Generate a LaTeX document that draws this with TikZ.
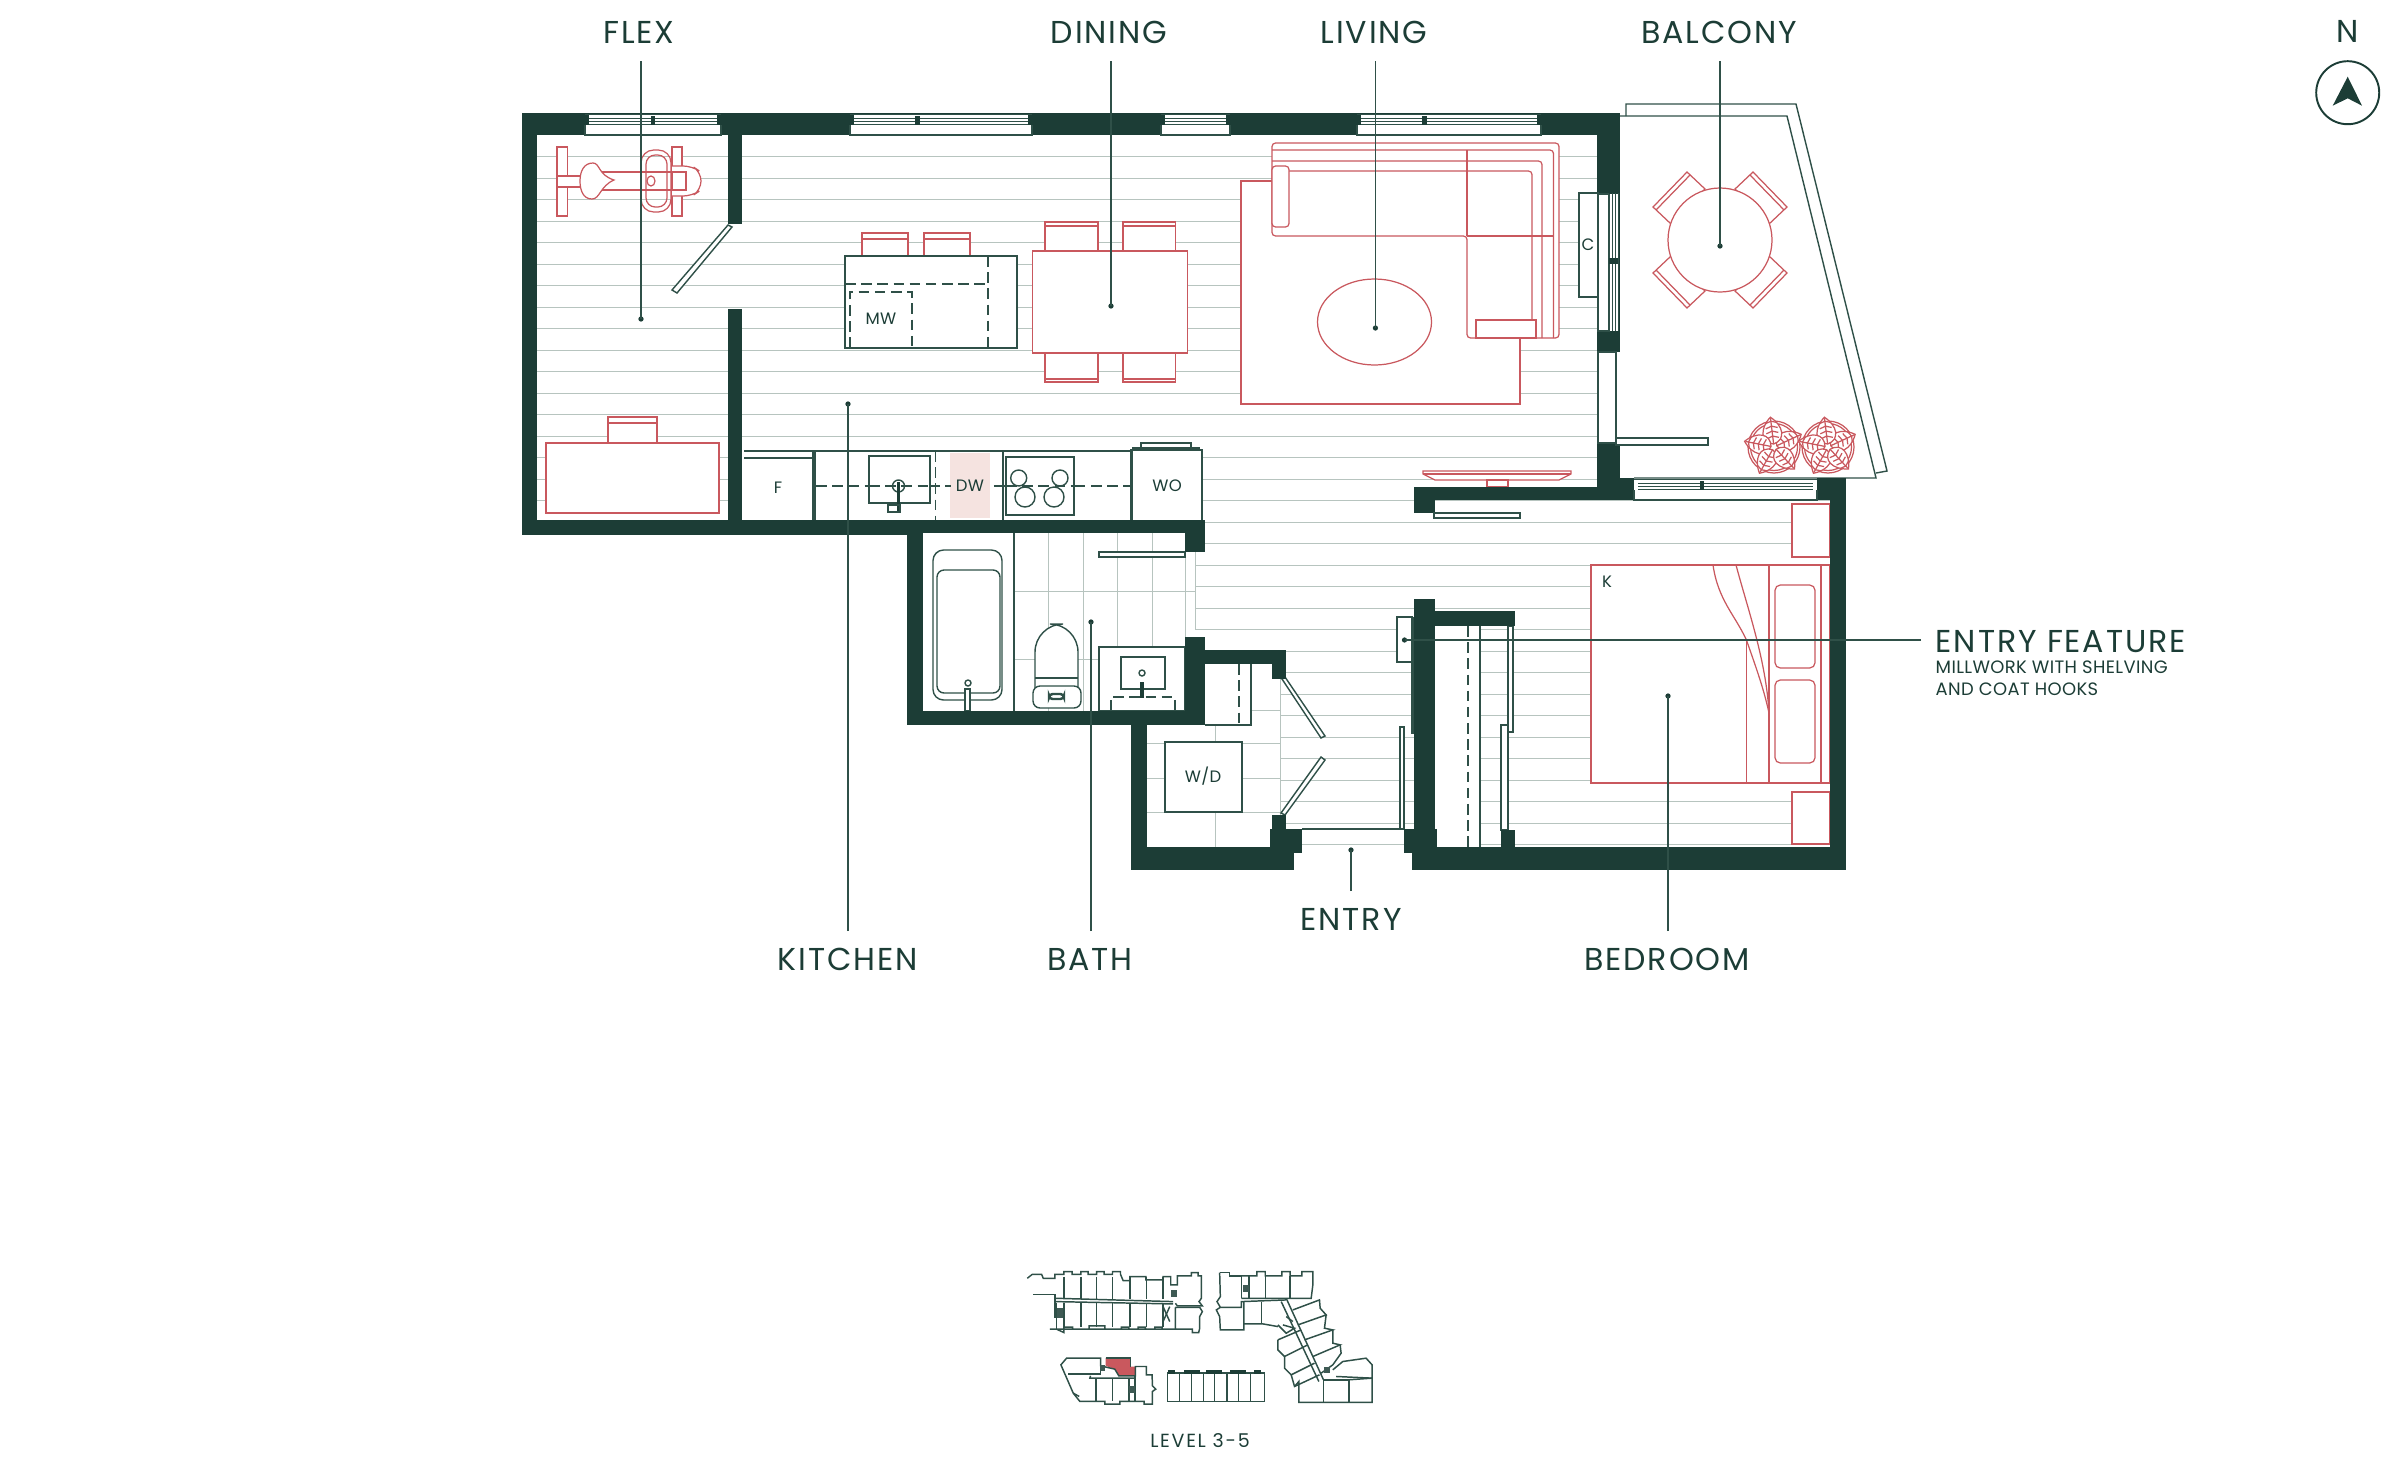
\documentclass[tikz,border=0pt]{standalone}
\usepackage{fontspec}
\setmainfont{Poppins}
\newfontfamily\lab[LetterSpace=6]{Poppins}
\newfontfamily\smalllab[LetterSpace=2]{Poppins}
\newfontfamily\levellab[LetterSpace=9]{Poppins}
\definecolor{wall}{HTML}{1C3D36}
\definecolor{ink}{HTML}{2F5048}
\definecolor{rd}{HTML}{C9585E}
\definecolor{flr}{HTML}{B7C4BF}
\definecolor{pink}{HTML}{F5E3E0}
\tikzset{
 ln/.style={draw=ink,line width=0.4pt},
 thinln/.style={draw=ink,line width=0.2pt},
 fl/.style={draw=ink,fill=white,line width=0.4pt},
 rl/.style={draw=rd,line width=0.35pt},
 rf/.style={draw=rd,fill=white,line width=0.35pt},
 dsh/.style={draw=ink,line width=0.4pt,dash pattern=on 3pt off 1.6pt},
 flrl/.style={draw=flr,line width=0.35pt},
 tile/.style={draw=flr,line width=0.25pt},
 wl/.style={fill=wall,draw=none},
 roomlab/.style={font=\lab\fontsize{9}{10}\selectfont,text=wall,inner sep=0pt},
 boxlab/.style={font=\smalllab\fontsize{4.7}{6}\selectfont,text=wall,inner sep=0pt},
 leader/.style={draw=ink,line width=0.4pt},
 ldot/.style={circle,fill=wall,inner sep=0pt,minimum size=1.5pt},
 key/.style={draw=ink,line width=0.42pt},
}
\newcommand\winh[3]{% x1 x2 ytop
 \fill[white] (#1+4,#3+2) rectangle (#2-4,#3+13);
 \fill[white] (#1,#3+12) rectangle (#2,#3+22);
 \draw[ln] (#1,#3+1.5)--(#2,#3+1.5);
 \draw[thinln] (#1+4,#3+5)--(#2-4,#3+5);
 \draw[thinln] (#1+4,#3+8)--(#2-4,#3+8);
 \draw[thinln] (#1+4,#3+11)--(#2-4,#3+11);
 \draw[ln] (#1,#3+12)--(#1,#3+22)--(#2,#3+22)--(#2,#3+12);
}
\newcommand\plant[2]{\begin{scope}[shift={(#1,#2)}]
 \draw[rf] (0,0) ellipse [x radius=26,y radius=26];
 \draw[rl] (0,0) ellipse [x radius=23.5,y radius=23.5];
 \foreach \a in {25,97,169,241,313}{\begin{scope}[rotate=\a]
  \draw[rf] (3,0) .. controls (6,-13) and (20,-12) .. (30,0) .. controls (20,12) and (6,13) .. (3,0);
  \draw[rl] (3,0)--(29,0);
  \foreach \t in {9,14,19,24}{\draw[rl] (\t,-6)--(\t+2,0)--(\t,6);}
 \end{scope}}
\end{scope}}
\begin{document}
\begin{tikzpicture}[x=0.01cm,y=-0.01cm]
\useasboundingbox (0,0) rectangle (2400,1460);
% floor planks
\foreach \k in {0,...,16}{
 \draw[flrl] (537,156.7+21.5*\k)--(1597,156.7+21.5*\k);}
\foreach \k in {16,...,22}{
 \draw[flrl] (1195,156.7+21.5*\k)--(1830,156.7+21.5*\k);}
\foreach \k in {23,...,32}{
 \draw[flrl] (1280,156.7+21.5*\k)--(1830,156.7+21.5*\k);}
% bath tiles
\foreach \x in {1048,1083,1117,1152}{\draw[tile] (\x,533)--(\x,711);}
\draw[tile] (1185,557)--(1185,637);
\draw[tile] (1195,552)--(1195,630);
\foreach \y in {591,659}{\draw[tile] (1014,\y)--(1185,\y);}
\draw[tile] (1185,591)--(1195,591);
% laundry tiles
\fill[white] (1147,664) rectangle (1280,847);
\draw[tile] (1215,725)--(1215,847);
\foreach \y in {743,778,812}{\draw[tile] (1147,\y)--(1280,\y);}
\draw[tile] (1251,710)--(1280,710);
\draw[tile] (1280,664)--(1280,829);
% living furniture
\draw[rf] (1241,181) rectangle (1520,404);
\draw[rf,rounded corners=1pt] (1272,143)--(1559,143)--(1559,338)--(1467,338)--(1467,236)--(1272,236)--cycle;
\draw[rl,rounded corners=1pt] (1272,150)--(1553.5,150)--(1553.5,338);
\draw[rl,rounded corners=1pt] (1272,161)--(1542,161)--(1542,338);
\draw[rl,rounded corners=1pt] (1272,171)--(1532,171)--(1532,320);
\draw[rl] (1467,150)--(1467,236);
\draw[rl] (1467,236)--(1553.5,236);
\draw[rf,rounded corners=1pt] (1272,166) rectangle (1289,227);
\draw[rf] (1476,320) rectangle (1536,338);
\draw[rf] (1374.5,322) ellipse [x radius=57,y radius=43];
\draw[rf] (1423,471)--(1571,471)--(1571,474)--(1559,480)--(1435,480)--(1423,474)--cycle;
\draw[rl] (1423,474)--(1571,474);
\draw[rf] (1487,480) rectangle (1508,487);
% flex furniture
\draw[rf] (557,147) rectangle (567.5,216);
\draw[rf] (672,147) rectangle (682,216);
\draw[rf] (557,176) rectangle (631.5,187);
\draw[rf,rounded corners=2.5pt] (672,166)--(692,166)--(701,172)--(701,190)--(692,196)--(672,196);
\draw[rf] (600,172) rectangle (686,190);
\draw[rl] (672,172)--(672,190);
\draw[rf] (593,163) .. controls (600,163) and (598,175) .. (614,180) .. controls (600,186) and (600,199) .. (592,199) .. controls (583,199) and (580,190) .. (580,181) .. controls (580,171) and (584,163) .. (593,163) -- cycle;
\draw[rl,rounded corners=3.6pt] (641,150) rectangle (671,212);
\draw[rl,rounded corners=2.6pt] (646,155) rectangle (667,207);
\draw[rl] (651,181) ellipse [x radius=4,y radius=5];
\draw[rf] (546,443) rectangle (719,513);
\draw[rf] (608,417) rectangle (657,443);
\draw[rl] (608,423)--(657,423);
% island and dining
\draw[rf] (862,233) rectangle (908,256);
\draw[rl] (862,239)--(908,239);
\draw[rf] (924,233) rectangle (970,256);
\draw[rl] (924,239)--(970,239);
\draw[fl] (845,256) rectangle (1017,348);
\draw[dsh] (845,284)--(988,284);
\draw[dsh] (988,256)--(988,348);
\draw[dsh] (850,348)--(850,292)--(912,292)--(912,348);
\node[boxlab] (mw) at (881,319) {MW};
\draw[rf] (1045,222) rectangle (1098,251); \draw[rl] (1045,226)--(1098,226);
\draw[rf] (1123,222) rectangle (1175.6,251); \draw[rl] (1123,226)--(1175.6,226);
\draw[rf] (1045,353) rectangle (1098,382); \draw[rl] (1045,379)--(1098,379);
\draw[rf] (1123,353) rectangle (1175.6,382); \draw[rl] (1123,379)--(1175.6,379);
\draw[rf] (1032.5,251) rectangle (1187.5,353);
% kitchen
\fill[white] (742,451) rectangle (1131,520);
\fill[pink] (950,453) rectangle (989.5,518);
\draw[ln] (744,451)--(1131,451);
\draw[ln] (744,458)--(812,458);
\draw[ink,line width=1.1pt] (814,451)--(814,520);
\draw[ln] (816,451)--(1131,451);
\draw[dsh] (816,486)--(1131,486);
\draw[dsh] (935.4,451)--(935.4,520);
\draw[ln] (1003,451)--(1003,520);
\draw[fl] (869,456) rectangle (930,503);
\draw[dsh] (869,486)--(930,486);
\draw[ln] (898.5,486) ellipse [x radius=6,y radius=6];
\fill[wall] (897,482) rectangle (900,512);
\draw[ln] (888,505) rectangle (900,512);
\draw[fl] (1006,457) rectangle (1074,515);
\draw[dsh] (1006,486)--(1074,486);
\foreach \x/\y/\r in {1018.7/478/8,1060/478/8,1025/497/10,1054/497/10}{\draw[ln] (\x,\y) ellipse [x radius=\r,y radius=\r];}
\fill[white] (1132,451) rectangle (1202,520);
\draw[ln,line width=0.7pt] (1131.6,520)--(1131.6,450)--(1202,450)--(1202,520);
\draw[ln] (1132,448)--(1200,448);
\draw[ln] (1141,448)--(1141,443)--(1191,443)--(1191,448);
\node[boxlab] (f) at (778,488) {F};
\node[boxlab,fill=pink,inner sep=1.5pt] (dw) at (970,486) {DW};
\node[boxlab] (wo) at (1167,486) {WO};
% bath
\fill[white] (923,533) rectangle (1014,711);
\draw[ln] (1014,533)--(1014,711);
\draw[ln,rounded corners=3pt] (933,550) rectangle (1002,700);
\draw[ln,rounded corners=2pt] (937,570) rectangle (1000,693);
\draw[ln] (968,683) circle [radius=3];
\draw[fl] (965,689) rectangle (970,711);
\draw[fl,rounded corners=8pt] (1035,690)--(1035,624)--(1078,624)--(1078,690);
\draw[fl] (1035,678)--(1078,678);
\draw[fl,rounded corners=2pt] (1033,686) rectangle (1081,708);
\draw[ln,line width=0.7pt,rounded corners=1pt] (1049,694) rectangle (1064,699);
\draw[fl] (1099,647) rectangle (1185,711);
\draw[fl] (1121,657) rectangle (1165,689);
\draw[ln] (1142,673) circle [radius=3];
\fill[wall] (1140,682) rectangle (1144,698);
\draw[dsh] (1111,711)--(1111,697)--(1175,697)--(1175,711);
\draw[fl] (1099,552) rectangle (1185,557);
% hall closet
\fill[white] (1205,664) rectangle (1251,725);
\draw[ln] (1251,664)--(1251,725)--(1205,725);
\draw[dsh] (1239,664)--(1239,725);
\draw[fl] (1165,742) rectangle (1242,812);
\node[boxlab] (wd) at (1203,776) {W/D};
% doors
\draw[fl] (728,225)--(732,227)--(677,293)--(672,290)--cycle;
\draw[fl] (1282,679)--(1285,677)--(1325,736)--(1321,738)--cycle;
\draw[fl] (1321,757)--(1325,760)--(1285,815)--(1281,813)--cycle;
\draw[fl] (1400,727) rectangle (1404,829);
\draw[ln] (1302,829)--(1404,829);
% entry millwork
\draw[fl] (1397,617) rectangle (1412,662);
\draw[fl] (1412,618) rectangle (1414,733);
% entry closet
\fill[white] (1435,626) rectangle (1480,847);
\draw[dsh] (1468,626)--(1468,847);
\draw[ln] (1480,626)--(1480,847);
\draw[fl] (1508,626) rectangle (1513,732);
\draw[fl] (1501,725) rectangle (1508,830);
% bedroom
\draw[rf] (1792,504) rectangle (1830,557);
\draw[rl,line width=0.7pt] (1792,557)--(1830,557);
\draw[rf] (1792,792) rectangle (1830,844);
\draw[rl,line width=0.7pt] (1792,844)--(1830,844);
\draw[rf] (1591,565) rectangle (1830,783);
\draw[rl] (1746.4,640)--(1746.4,783);
\draw[rl] (1769,565)--(1769,783);
\draw[rl] (1821,565)--(1821,783);
\draw[rl] (1713,565) .. controls (1718,600) and (1735,615) .. (1746.4,640) .. controls (1757,670) and (1764,690) .. (1769,713);
\draw[rl] (1736,565) .. controls (1748,610) and (1766,660) .. (1769,713);
\draw[rf,rounded corners=1.5pt] (1775,585) rectangle (1815,668);
\draw[rf,rounded corners=1.5pt] (1775,680) rectangle (1815,763);
\node[boxlab] (k) at (1607,582) {K};
% balcony
\draw[ln] (1626,116)--(1626,104)--(1796,104)--(1887,471)--(1876,473);
\draw[ln] (1620,116)--(1787,116)--(1876,478)--(1634,478);
\foreach \sx/\sy in {1/1,-1/1,1/-1,-1/-1}{
 \begin{scope}[shift={(1720,240)},xscale=\sx,yscale=\sy]
 \draw[rf] (-15,-51)--(-33,-68)--(-67,-33)--(-49,-16)--cycle;
 \draw[rl] (-30,-65)--(-64,-30);
 \end{scope}}
\draw[rf] (1720,240) circle [radius=52];
\plant{1774}{447}
\plant{1828}{447}
% walls
\fill[wl] (521.5,113) rectangle (1620,135);
\fill[wl] (521.5,113) rectangle (537,535);
\fill[wl] (521.5,520) rectangle (907,535);
\fill[wl] (907,520) rectangle (1205,533);
\fill[wl] (728,135) rectangle (742,224);
\fill[wl] (728,309) rectangle (742,520);
\fill[wl] (1185,520) rectangle (1205,552);
\fill[wl] (1597,113) rectangle (1620,193);
\fill[wl] (1597,193) rectangle (1620,352);
\fill[wl] (1597,443) rectangle (1620,500);
\fill[wl] (1597,478) rectangle (1634,500);
\fill[wl] (1414,487) rectangle (1634,500);
\fill[wl] (1414,500) rectangle (1435,513);
\fill[wl] (1817,478) rectangle (1846,500);
\fill[wl] (1830,500) rectangle (1846,870);
\fill[wl] (1412,847) rectangle (1846,870);
\fill[wl] (1414,599) rectangle (1435,830);
\fill[wl] (1435,611) rectangle (1515,626);
\fill[wl] (1404,829) rectangle (1437,853);
\fill[wl] (1501,830) rectangle (1515,847);
\fill[wl] (907,520) rectangle (923,725);
\fill[wl] (907,711) rectangle (1205,725);
\fill[wl] (1185,637) rectangle (1205,725);
\fill[wl] (1205,650) rectangle (1285.5,664);
\fill[wl] (1272,664) rectangle (1285.5,679);
\fill[wl] (1131,725) rectangle (1147,870);
\fill[wl] (1131,847) rectangle (1294,870);
\fill[wl] (1270,829) rectangle (1302,853);
\fill[wl] (1272,815) rectangle (1285.5,829);
% windows
\winh{585}{721}{113}
\winh{850}{1032}{113}
\winh{1161}{1230}{113}
\winh{1357}{1541}{113}
\winh{1634}{1817}{478}
\foreach \a/\b/\y in {651/655/113,915/920/113,1422/1427/113,1699.5/1704/478}{\fill[wl] (\a,\y+3) rectangle (\b,\y+12);}
% living east window
\fill[white] (1598,194) rectangle (1618,331);
\draw[ln] (1598,194)--(1609,194);
\draw[ln] (1609,194)--(1609,331)--(1598,331)--(1598,194);
\foreach \x in {1612,1615,1618}{\draw[thinln] (\x,193)--(\x,331);}
\fill[wl] (1609,258) rectangle (1618,264);
\draw[fl] (1579,193) rectangle (1598,297);
\node[boxlab] (c) at (1588,245) {C};
% balcony door
\fill[white] (1597,352) rectangle (1620,443);
\draw[ln] (1598,352)--(1598,443)--(1616,443)--(1616,352)--cycle;
\draw[fl] (1616,438) rectangle (1708,445);
\draw[fl] (1434,513) rectangle (1520,518);
% leaders and labels
\node[roomlab] (flex) at (639,32) {FLEX};
\node[roomlab] (dining) at (1109,32) {DINING};
\node[roomlab] (living) at (1374,32) {LIVING};
\node[roomlab] (balcony) at (1719,32) {BALCONY};
\node[roomlab] (kitchen) at (848,959) {KITCHEN};
\node[roomlab] (bath) at (1090,959) {BATH};
\node[roomlab] (entry) at (1351,919.5) {ENTRY};
\node[roomlab] (bedroom) at (1667,959) {BEDROOM};
\node[roomlab,anchor=west] (feature) at (1935,642) {ENTRY FEATURE};
\node[boxlab,anchor=west,font=\smalllab\fontsize{5.1}{6}\selectfont] (sub1) at (1935,667) {MILLWORK WITH SHELVING};
\node[boxlab,anchor=west,font=\smalllab\fontsize{5.1}{6}\selectfont] (sub2) at (1935,689) {AND COAT HOOKS};
\node[ldot] (dflex) at (641,319) {};
\node[ldot] (ddining) at (1111,306) {};
\node[ldot] (dliving) at (1375.4,328) {};
\node[ldot] (dbalcony) at (1720,246) {};
\node[ldot] (dkitchen) at (848,404) {};
\node[ldot] (dbath) at (1091,622) {};
\node[ldot] (dentry) at (1351,850) {};
\node[ldot] (dbedroom) at (1668,696) {};
\node[ldot] (dfeature) at (1404.5,640) {};
\coordinate (tflex) at (641,61);
\coordinate (tdining) at (1111,61);
\coordinate (tliving) at (1375.4,61);
\coordinate (tbalcony) at (1720,61);
\coordinate (tkitchen) at (848,931);
\coordinate (tbath) at (1091,931);
\coordinate (tentry) at (1351,891);
\coordinate (tbedroom) at (1668,931);
\coordinate (tfeature) at (1921,640);
\foreach \n in {flex,dining,living,balcony,kitchen,bath,entry,bedroom,feature}{
 \draw[leader] (t\n)--(d\n.center);}
% north
\node[roomlab] (north) at (2347.7,31) {N};
\node[circle,draw=wall,line width=0.55pt,minimum size=0.63cm,inner sep=0pt] (ncirc) at (2347.7,92.7) {};
\fill[wall] (2347.7,76.7)--(2362,105.7)--(2347.7,98.3)--(2332.7,105.7)--cycle;
% key plan
\begin{scope}[shift={(1000,1250)},x=0.003333cm,y=-0.003333cm]
\fill[rd] (317,325)--(392,325)--(392,350)--(407,350)--(407,378)--(357,378)--(345,358)--(317,348)--cycle;
\draw[key] (82,85)--(97,73)--(125,73)--(130,85)--(165,85)--(165,73)--(192,73)--(192,65)--(217,65)--(217,73)--(243,73)--(243,65)--(265,65)--(265,73)--(290,73)--(290,65)--(313,65)--(313,73)--(338,73)--(338,65)--(362,65)--(362,73)--(370,92)--(390,92)--(390,80)--(438,80)--(438,90)--(490,90)--(490,80)--(513,80)--(513,105)--(533,105)--(533,78)--(575,78)--(575,68)--(595,68)--(595,78)--(605,78)--(605,145)--(598,155)--(608,168)--(533,168)--(527,160);
\draw[key] (527,172)--(600,172)--(608,185)--(600,200)--(600,235)--(597,248)--(578,248)--(578,238)--(527,238)--(527,172);
\draw[key] (527,238)--(487,238)--(487,232)--(465,232)--(465,238)--(437,238)--(437,232)--(415,232)--(415,238)--(387,238)--(387,232)--(365,232)--(365,238)--(315,238)--(315,228)--(268,228)--(268,238)--(218,238)--(218,232)--(192,232)--(192,248)--(170,238)--(150,238)--cycle;
\draw[key] (165,145)--(520,155);
\draw[key] (165,155)--(520,162);
\foreach \x in {192,243,290,338,390,440,490}{\draw[key] (\x,80)--(\x,147); \draw[key] (\x,160)--(\x,232);}
\draw[key] (100,133)--(165,133)--(165,205);
\draw[key] (170,160)--(170,238);
\draw[key] (490,170)--(510,215); \draw[key] (510,170)--(490,215);
\fill[wall!85] (515,120) rectangle (533,140);
\fill[wall!85] (170,175) rectangle (188,205);
\draw[key] (660,68)--(690,68)--(690,78)--(725,78)--(725,145);
\draw[key] (660,68)--(662,140)--(652,155)--(662,172)--(725,172)--(725,155)--(860,150);
\draw[key] (662,172)--(650,180)--(660,200)--(662,240)--(733,240)--(733,155);
\draw[key] (725,78)--(748,78)--(772,78)--(772,65)--(797,65)--(797,78)--(847,78)--(847,65)--(872,65)--(872,78)--(907,78)--(907,65)--(940,65)--(940,105)--(935,145)--(725,145);
\draw[key] (748,78)--(748,145); \draw[key] (797,78)--(797,145); \draw[key] (872,78)--(872,145);
\draw[key] (785,155)--(785,222);
\draw[key] (733,222)--(790,222)--(835,230);
\fill[wall!85] (730,105) rectangle (748,125);
\draw[key] (860,145)--(972,390);
\draw[key] (845,155)--(958,395);
\draw[key] (880,180)--(960,150)--(962,175)--(980,195)--(895,225);
\draw[key] (980,195)--(975,235)--(1000,240)--(915,270);
\draw[key] (1000,240)--(1000,280)--(1022,285)--(940,320);
\draw[key] (1022,285)--(1025,310)--(1000,345)--(965,370);
\draw[key] (835,270)--(905,240); \draw[key] (835,270)--(835,300)--(855,320)--(925,285);
\draw[key] (855,320)--(855,355)--(875,375)--(945,340);
\draw[key] (875,375)--(885,410)--(960,375);
\draw[key] (885,410)--(898,395)--(898,458)--(1118,458)--(1118,345)--(1100,325)--(1030,335)--(1000,360);
\draw[key] (972,390)--(1048,390)--(1048,458); \draw[key] (972,390)--(972,458);
\draw[key] (1048,390)--(1118,385); \draw[key] (1010,380)--(1118,385);
\fill[wall!85] (975,350) rectangle (993,370);
\draw[key] (850,225)--(885,235)--(860,250)--(835,225); \draw[key] (860,200)--(880,215);
% bottom-left block
\draw[key] (183,345)--(200,325)--(302,325)--(302,348)--(345,358)--(357,378)--(407,378)--(407,350)--(440,350)--(440,375)--(457,375)--(458,408)--(468,418)--(458,425)--(458,463)--(433,463)--(433,455)--(360,455)--(360,463)--(315,463)--(315,455)--(240,455)--(220,430)--cycle;
\draw[key] (205,372)--(302,372)--(302,348);
\draw[key] (272,378)--(270,385)--(407,385);
\foreach \x in {288,338,387}{\draw[key] (\x,387)--(\x,455);}
\draw[key] (405,378)--(405,455);
\draw[key] (317,325)--(392,325)--(392,350);
\fill[wall!85] (300,345) rectangle (316,365);
\fill[wall!85] (388,410) rectangle (405,430);
\draw[key] (220,430)--(238,440);
% centre block
\draw[key] (503,370)--(795,370)--(795,455)--(503,455)--cycle;
\foreach \x in {540,575,612,645,682,717,752}{\draw[key] (\x,370)--(\x,455);}
\foreach \a/\b in {505/527,553/600,620/668,692/740,763/785}{\fill[wall] (\a,360) rectangle (\b,372);}
\end{scope}
\node[boxlab,font=\levellab\fontsize{5.4}{6}\selectfont] (level) at (1200,1441) {LEVEL 3-5};
\end{tikzpicture}
\end{document}
